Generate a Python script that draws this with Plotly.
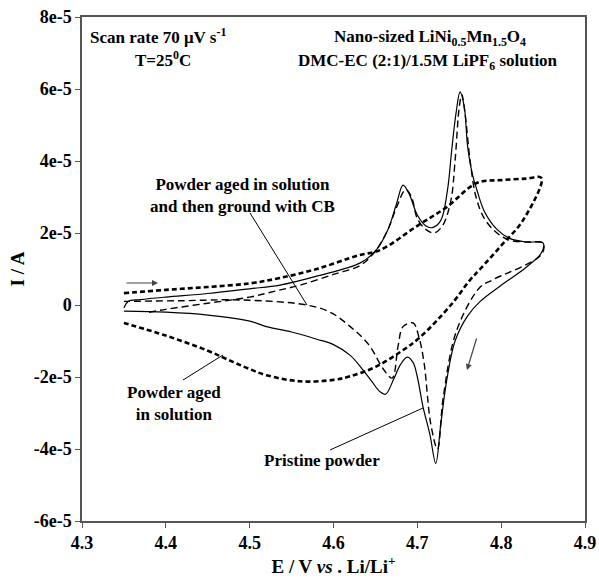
import plotly.graph_objects as go

# ---- data (E in V, I in A x1e-5) ----
pristine_E = [4.35, 4.355, 4.37, 4.40, 4.45, 4.50, 4.536, 4.58, 4.632, 4.65, 4.665, 4.675, 4.683,
              4.69, 4.70, 4.71, 4.718, 4.728, 4.736, 4.741, 4.746, 4.751, 4.756, 4.76, 4.766,
              4.771, 4.78, 4.795, 4.81, 4.83, 4.85,
              4.848, 4.83, 4.80, 4.775, 4.76, 4.745, 4.735, 4.728, 4.722, 4.715, 4.707, 4.70,
              4.695, 4.688, 4.68, 4.672, 4.662, 4.655, 4.645, 4.635, 4.62, 4.60, 4.58, 4.55,
              4.52, 4.50, 4.45, 4.40, 4.35]
pristine_I = [-0.08, 0.1, 0.15, 0.22, 0.32, 0.45, 0.55, 0.8, 1.17, 1.5, 2.1, 2.8, 3.33,
              3.1, 2.5, 2.2, 2.15, 2.35, 3.2, 4.3, 5.3, 5.92, 5.5, 4.4, 3.6,
              3.2, 2.6, 2.1, 1.85, 1.75, 1.72,
              1.45, 1.05, 0.55, 0.1, -0.3, -1.0, -2.1, -3.3, -4.4, -3.6, -2.85, -2.0,
              -1.6, -1.45, -1.65, -2.05, -2.48, -2.4, -2.1, -1.8, -1.4, -1.1, -0.95, -0.75,
              -0.6, -0.45, -0.28, -0.2, -0.17]

cb_E = [4.38, 4.40, 4.45, 4.50, 4.533, 4.56, 4.60, 4.632, 4.65, 4.665, 4.675, 4.686, 4.693,
        4.70, 4.71, 4.72, 4.73, 4.74, 4.745, 4.75, 4.753, 4.757, 4.763, 4.77, 4.78, 4.795,
        4.81, 4.83, 4.85,
        4.848, 4.79, 4.775, 4.747, 4.731, 4.724, 4.716, 4.708, 4.702, 4.695, 4.683, 4.677,
        4.67, 4.66, 4.642, 4.62, 4.596, 4.568, 4.489, 4.42, 4.35]
cb_I = [-0.2, -0.12, 0.05, 0.22, 0.4, 0.55, 0.85, 1.1, 1.5, 2.1, 2.7, 3.2, 3.0,
        2.4, 2.1, 2.0, 2.2, 2.9, 4.0, 5.5, 5.85, 5.3, 4.0, 3.0, 2.4, 2.0,
        1.8, 1.75, 1.72,
        1.4, 0.7, 0.5, -0.7, -2.55, -4.0, -3.3, -1.6, -0.9, -0.5, -0.6, -1.15,
        -2.03, -1.8, -1.1, -0.6, -0.2, 0.0, 0.14, 0.12, 0.1]

aged_E = [4.35, 4.40, 4.45, 4.50, 4.536, 4.58, 4.63, 4.656, 4.70, 4.735, 4.771, 4.80, 4.83, 4.848,
          4.826, 4.80, 4.775, 4.763, 4.74, 4.703, 4.68, 4.65, 4.62, 4.60, 4.56, 4.52,
          4.50, 4.48, 4.45, 4.40, 4.35]
aged_I = [0.33, 0.42, 0.5, 0.6, 0.75, 1.0, 1.38, 1.53, 2.2, 2.72, 3.39, 3.47, 3.51, 3.53,
          2.35, 1.65, 1.0, 0.7, 0.0, -0.9, -1.3, -1.72, -1.98, -2.08, -2.12, -1.95,
          -1.78, -1.58, -1.27, -0.85, -0.5]

scale = 1e-5
x_ticks = [4.3, 4.4, 4.5, 4.6, 4.7, 4.8, 4.9]
x_labels = ["4.3", "4.4", "4.5", "4.6", "4.7", "4.8", "4.9"]
y_ticks = [-6e-5, -4e-5, -2e-5, 0, 2e-5, 4e-5, 6e-5, 8e-5]
y_labels = ["-6e-5", "-4e-5", "-2e-5", "0", "2e-5", "4e-5", "6e-5", "8e-5"]

FONT = "Liberation Serif"

fig = go.Figure()
fig.add_trace(go.Scatter(x=aged_E, y=[v * scale for v in aged_I], mode="lines",
                         line=dict(color="black", width=2.6, dash="5px,3px"),
                         name="Powder aged in solution", line_shape="spline"))
fig.add_trace(go.Scatter(x=cb_E, y=[v * scale for v in cb_I], mode="lines",
                         line=dict(color="black", width=1.4, dash="7px,4px"),
                         name="Aged + CB", line_shape="spline"))
fig.add_trace(go.Scatter(x=pristine_E, y=[v * scale for v in pristine_I], mode="lines",
                         line=dict(color="black", width=1.2),
                         name="Pristine powder", line_shape="spline"))

def px2x(px):
    return 4.3 + (px - 82) / 503 * 0.6

def py2y(py):
    return (305 - py) / 36 * 1e-5

bold = dict(family=FONT, size=17, color="black")

texts = [
    ("<b>Scan rate 70 μV s<sup>-1</sup></b>", 158, 36),
    ("<b>T=25<sup>0</sup>C</b>", 163, 59),
    ("<b>Nano-sized LiNi<sub>0.5</sub>Mn<sub>1.5</sub>O<sub>4</sub></b>", 430, 38),
    ("<b>DMC-EC (2:1)/1.5M LiPF<sub>6</sub> solution</b>", 428, 62),
    ("<b>Powder aged in solution<br>and then ground with CB</b>", 242, 195),
    ("<b>Powder aged<br>in solution</b>", 174, 403),
    ("<b>Pristine powder</b>", 322, 460),
]
for t, px, py in texts:
    fig.add_annotation(x=px2x(px), y=py2y(py), text=t, showarrow=False,
                       font=bold, xanchor="center", yanchor="middle")

# pointer lines
for (x0, y0, x1, y1) in [(250, 213, 307, 305), (183, 380, 223, 355), (330, 450, 423, 408)]:
    fig.add_shape(type="line", x0=px2x(x0), y0=py2y(y0), x1=px2x(x1), y1=py2y(y1),
                  line=dict(color="black", width=1))

# scan direction arrows
fig.add_annotation(x=px2x(158), y=py2y(283), ax=px2x(125), ay=py2y(283),
                   xref="x", yref="y", axref="x", ayref="y", text="",
                   showarrow=True, arrowhead=2, arrowsize=1, arrowwidth=1.2, arrowcolor="#444")
fig.add_annotation(x=px2x(467), y=py2y(370), ax=px2x(477), ay=py2y(337),
                   xref="x", yref="y", axref="x", ayref="y", text="",
                   showarrow=True, arrowhead=2, arrowsize=1, arrowwidth=1.2, arrowcolor="#444")

axis_common = dict(showgrid=False, zeroline=False, showline=True, linecolor="#555",
                   linewidth=1.5, mirror=True, ticks="outside", ticklen=5, tickcolor="#555",
                   automargin=False, ticklabeloverflow="allow",
                   tickfont=dict(family=FONT, size=18, color="black", weight="bold"))

fig.update_layout(
    width=599, height=581,
    margin=dict(l=82, r=14, t=17, b=60),
    plot_bgcolor="white", paper_bgcolor="white",
    showlegend=False,
    xaxis=dict(range=[4.3, 4.9], tickvals=x_ticks, ticktext=x_labels,
               title=dict(text="<b>E / V <i>vs</i> . Li/Li<sup>+</sup></b>",
                          font=dict(family=FONT, size=19, color="black"), standoff=6),
               **axis_common),
    yaxis=dict(range=[-6e-5, 8e-5], tickvals=y_ticks, ticktext=y_labels,
               title=dict(text="<b>I / A</b>", font=dict(family=FONT, size=19, color="black"),
                          standoff=4),
               **axis_common),
)

fig.write_html("out.html", config={"displayModeBar": False},
               post_script="document.body.style.margin='0';document.body.style.overflow='hidden';")
